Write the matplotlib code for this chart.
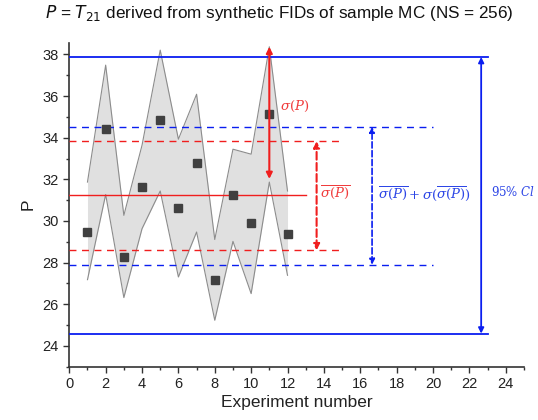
import matplotlib
matplotlib.use("Agg")
import matplotlib.pyplot as plt
from matplotlib.ticker import MultipleLocator
import numpy as np

plt.rcParams["font.family"] = ["Liberation Sans", "DejaVu Sans"]
plt.rcParams["mathtext.fontset"] = "dejavuserif"

# Experiment data
experiment = [1, 2, 3, 4, 5, 6, 7, 8, 9, 10, 11, 12]
p_values = [29.47, 34.41, 28.27, 31.63, 34.84, 30.60, 32.81, 27.18, 31.24, 29.88, 35.12, 29.39]
band_upper = [31.87, 37.49, 30.27, 33.64, 38.21, 33.93, 36.09, 29.11, 33.45, 33.21, 38.37, 31.44]
band_lower = [27.18, 31.27, 26.32, 29.63, 31.44, 27.31, 29.47, 25.23, 29.02, 26.51, 31.87, 27.39]

# Reference levels
p_mean = 31.24
sigma_bar_lo, sigma_bar_hi = 28.59, 33.83
sigma_ext_lo, sigma_ext_hi = 27.90, 34.52
ci_lo, ci_hi = 24.59, 37.88

BLUE = "#0A1EF0"
RED = "#F01E1E"
RED_TXT = "#F03C3C"
BLUE_TXT = "#2D46E6"
GRAY_FILL = "#E0E0E0"
GRAY_EDGE = "#8C8C8C"
SQUARE = "#404040"
AXIS = "#333333"

fig = plt.figure(figsize=(5.38, 4.2), dpi=100)
ax = fig.add_axes([0.1288, 0.127, 0.845, 0.771])

# band of sigma(P)
ax.fill_between(experiment, band_lower, band_upper, color=GRAY_FILL, lw=0, zorder=1)
ax.plot(experiment, band_upper, color=GRAY_EDGE, lw=0.8, zorder=2)
ax.plot(experiment, band_lower, color=GRAY_EDGE, lw=0.8, zorder=2)

# reference lines
ax.plot([0, 23], [ci_hi, ci_hi], color=BLUE, lw=1.3, zorder=3)
ax.plot([0, 23], [ci_lo, ci_lo], color=BLUE, lw=1.3, zorder=3)
ax.plot([0, 20], [sigma_ext_hi] * 2, color=BLUE, lw=1.0, ls=(0, (5, 4)), zorder=3)
ax.plot([0, 20], [sigma_ext_lo] * 2, color=BLUE, lw=1.0, ls=(0, (5, 4)), zorder=3)
ax.plot([0, 15], [sigma_bar_hi] * 2, color=RED, lw=1.0, ls=(0, (5, 4)), zorder=3)
ax.plot([0, 15], [sigma_bar_lo] * 2, color=RED, lw=1.0, ls=(0, (5, 4)), zorder=3)
ax.plot([0, 13], [p_mean, p_mean], color=RED, lw=1.0, zorder=3)

# data points
ax.plot(experiment, p_values, ls="none", marker="s", ms=5.5, color=SQUARE, zorder=5)

# arrows
ax.annotate("", xy=(11, band_upper[10]), xytext=(11, band_lower[10] + 0.15),
            arrowprops=dict(arrowstyle="<|-|>", color=RED, lw=1.5,
                            mutation_scale=9, shrinkA=0, shrinkB=0), zorder=6)
ax.annotate("", xy=(13.6, sigma_bar_hi), xytext=(13.6, sigma_bar_lo),
            arrowprops=dict(arrowstyle="<|-|>", color=RED, lw=1.5, ls="--",
                            mutation_scale=9, shrinkA=0, shrinkB=0), zorder=6)
ax.annotate("", xy=(16.65, sigma_ext_hi), xytext=(16.65, sigma_ext_lo),
            arrowprops=dict(arrowstyle="<|-|>", color=BLUE, lw=1.2, ls="--",
                            mutation_scale=8, shrinkA=0, shrinkB=0), zorder=6)
ax.annotate("", xy=(22.65, ci_hi), xytext=(22.65, ci_lo),
            arrowprops=dict(arrowstyle="<|-|>", color=BLUE, lw=1.3,
                            mutation_scale=8, shrinkA=0, shrinkB=0), zorder=6)

# labels
ax.text(11.6, 35.5, r"$\sigma(P)$", color=RED_TXT, fontsize=9.5, va="center", ha="left")
ax.text(13.8, 31.4, r"$\overline{\sigma(P)}$", color=RED_TXT, fontsize=9.5, va="center", ha="left")
ax.text(17.0, 31.3, r"$\overline{\sigma(P)}+\sigma(\overline{\sigma(P)})$", color=BLUE_TXT,
        fontsize=9.5, va="center", ha="left")
ax.text(23.2, 31.4, r"$95\%\ Cl$", color=BLUE_TXT, fontsize=8.5, va="center", ha="left")

ax.set_xlim(0, 25)
ax.set_ylim(23, 38.56)
ax.xaxis.set_major_locator(MultipleLocator(2))
ax.xaxis.set_minor_locator(MultipleLocator(1))
ax.yaxis.set_major_locator(MultipleLocator(2))
ax.yaxis.set_minor_locator(MultipleLocator(1))
ax.set_xticks(np.arange(0, 25, 2))
ax.tick_params(which="major", direction="out", length=4, width=1, colors=AXIS,
               labelsize=10.5, labelcolor="#222222")
ax.tick_params(which="minor", direction="out", length=2.5, width=1, colors=AXIS)
for side in ["top", "right"]:
    ax.spines[side].set_visible(False)
for side in ["left", "bottom"]:
    ax.spines[side].set_color(AXIS)
    ax.spines[side].set_linewidth(1.2)

ax.set_xlabel("Experiment number", fontsize=12.5, color="#222222", labelpad=3)
ax.set_ylabel("P", fontsize=12.5, color="#222222", labelpad=5)

fig.text(0.52, 0.968, r"$P$ = $T_{\mathit{21}}$ derived from synthetic FIDs of sample MC (NS = 256)",
         ha="center", va="center", fontsize=12.3, color="#111111",
         math_fontfamily="dejavusans")

fig.savefig("out.png", dpi=100)
